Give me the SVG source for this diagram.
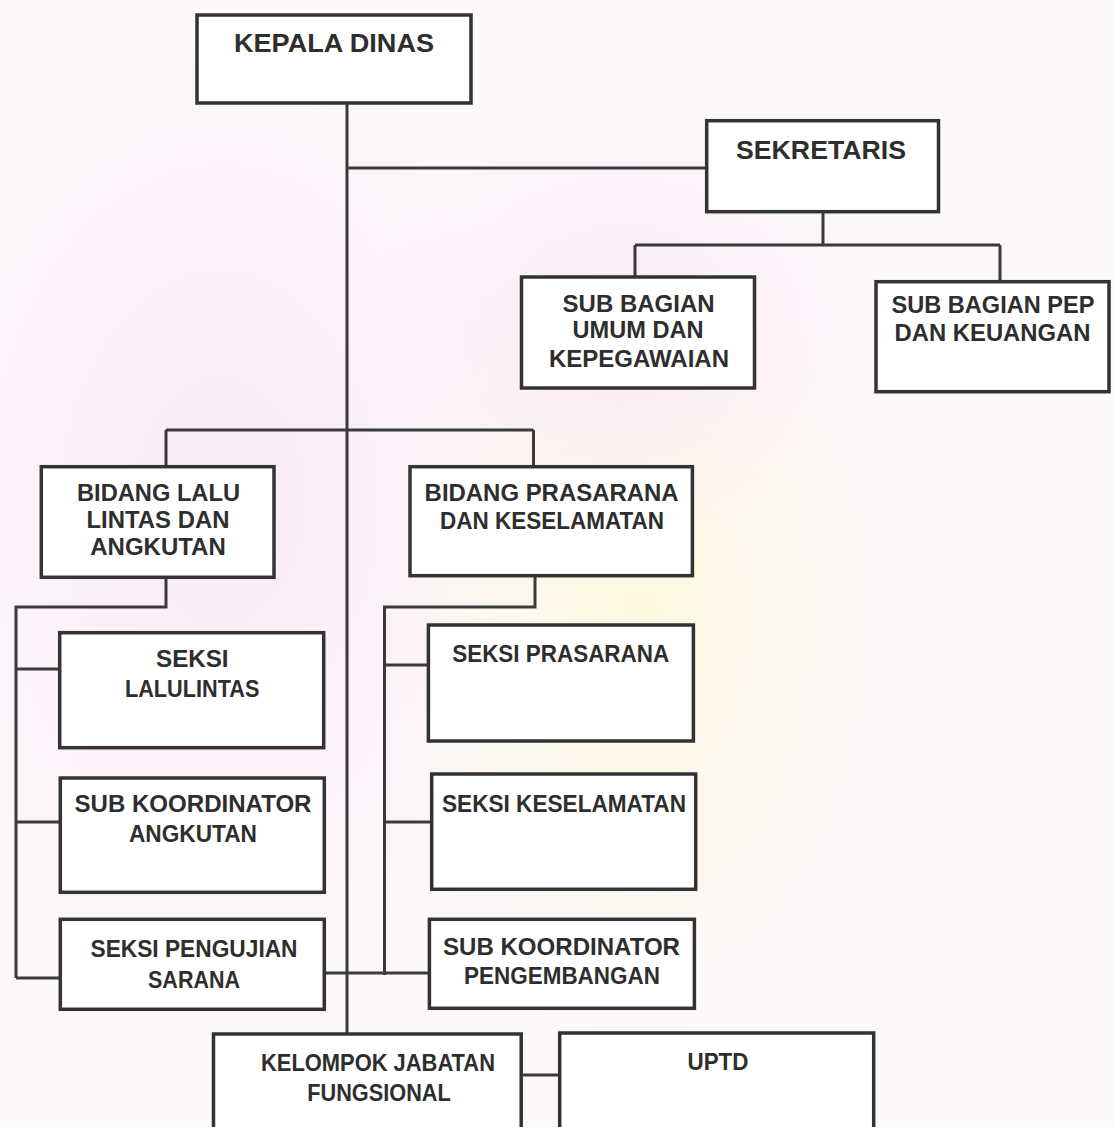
<svg xmlns="http://www.w3.org/2000/svg" width="1114" height="1127" viewBox="0 0 1114 1127">
<defs>
<style>
.box{fill:#ffffff;stroke:#333333;stroke-width:3.5}
.conn{fill:none;stroke:#3a3a3a;stroke-width:3}
.t{font-family:"Liberation Sans",Arial,sans-serif;font-weight:bold;fill:#2e2e2e;text-anchor:middle}
.big{font-size:25px}
.mid{font-size:23px}
</style>
<radialGradient id="pink" cx="0.5" cy="0.5" r="0.5">
<stop offset="0" stop-color="#fbe9f7" stop-opacity="0.9"/>
<stop offset="1" stop-color="#fbe9f7" stop-opacity="0"/>
</radialGradient>
<radialGradient id="yel" cx="0.5" cy="0.5" r="0.5">
<stop offset="0" stop-color="#fdf8dc" stop-opacity="0.9"/>
<stop offset="1" stop-color="#fdf8dc" stop-opacity="0"/>
</radialGradient>
</defs>
<rect x="0" y="0" width="1114" height="1127" fill="#fcf8fb"/>
<ellipse cx="220" cy="500" rx="330" ry="480" fill="url(#pink)"/>
<ellipse cx="640" cy="620" rx="260" ry="420" fill="url(#yel)"/>
<ellipse cx="620" cy="330" rx="260" ry="220" fill="url(#pink)"/>

<g id="connectors">
<path class="conn" d="M347,103 V1034"/>
<path class="conn" d="M347,168 H706.7"/>
<path class="conn" d="M823,212 V245 M635,245 H1000 M635,245 V277 M1000,245 V281.7"/>
<path class="conn" d="M166,430 H533.5 M166,430 V466.7 M533.5,430 V466.7"/>
<path class="conn" d="M166,577.3 V607 H16 V978 M16,669 H59.7 M16,822 H60.3 M16,978 H60.3"/>
<path class="conn" d="M535,575.7 V607 H384.5 V975 M384.5,665 H428.4 M384.5,822 H431.7 M324.3,973 H429.4"/>
<path class="conn" d="M521.2,1075 H559.7"/>
</g>

<g id="kepala-dinas">
<rect class="box" x="197" y="15" width="274" height="88"/>
<text class="t big" x="334" y="51.7" textLength="200" lengthAdjust="spacingAndGlyphs">KEPALA DINAS</text>
</g>
<g id="sekretaris">
<rect class="box" x="706.7" y="120.7" width="231.8" height="91"/>
<text class="t big" x="821" y="159" textLength="170" lengthAdjust="spacingAndGlyphs">SEKRETARIS</text>
</g>
<g id="sub-bagian-umum">
<rect class="box" x="521.5" y="277" width="233" height="111"/>
<text class="t mid" x="638.6" y="311.7" textLength="152" lengthAdjust="spacingAndGlyphs">SUB BAGIAN</text>
<text class="t mid" x="638" y="338" textLength="131" lengthAdjust="spacingAndGlyphs">UMUM DAN</text>
<text class="t mid" x="639" y="366.7" textLength="180" lengthAdjust="spacingAndGlyphs">KEPEGAWAIAN</text>
</g>
<g id="sub-bagian-pep">
<rect class="box" x="876" y="281.7" width="233" height="110"/>
<text class="t mid" x="993" y="313" textLength="203" lengthAdjust="spacingAndGlyphs">SUB BAGIAN PEP</text>
<text class="t mid" x="992.5" y="341" textLength="196" lengthAdjust="spacingAndGlyphs">DAN KEUANGAN</text>
</g>
<g id="bidang-lalu-lintas">
<rect class="box" x="41.3" y="466.7" width="232.7" height="110.6"/>
<text class="t mid" x="158.5" y="500.7" textLength="163" lengthAdjust="spacingAndGlyphs">BIDANG LALU</text>
<text class="t mid" x="158" y="528" textLength="143" lengthAdjust="spacingAndGlyphs">LINTAS DAN</text>
<text class="t mid" x="158" y="555" textLength="135.5" lengthAdjust="spacingAndGlyphs">ANGKUTAN</text>
</g>
<g id="bidang-prasarana">
<rect class="box" x="410" y="466.7" width="282.4" height="109"/>
<text class="t mid" x="551.6" y="500.7" textLength="254" lengthAdjust="spacingAndGlyphs">BIDANG PRASARANA</text>
<text class="t mid" x="552" y="529" textLength="224" lengthAdjust="spacingAndGlyphs">DAN KESELAMATAN</text>
</g>
<g id="seksi-lalulintas">
<rect class="box" x="59.7" y="632.7" width="264" height="115"/>
<text class="t mid" x="192.3" y="666.7" textLength="72.6" lengthAdjust="spacingAndGlyphs">SEKSI</text>
<text class="t mid" x="192.2" y="697" textLength="134.5" lengthAdjust="spacingAndGlyphs">LALULINTAS</text>
</g>
<g id="sub-koordinator-angkutan">
<rect class="box" x="60.3" y="778" width="264" height="114.3"/>
<text class="t mid" x="193" y="811.7" textLength="237" lengthAdjust="spacingAndGlyphs">SUB KOORDINATOR</text>
<text class="t mid" x="193" y="841.7" textLength="128" lengthAdjust="spacingAndGlyphs">ANGKUTAN</text>
</g>
<g id="seksi-pengujian-sarana">
<rect class="box" x="60.3" y="919.3" width="264" height="90"/>
<text class="t mid" x="194" y="956.7" textLength="207" lengthAdjust="spacingAndGlyphs">SEKSI PENGUJIAN</text>
<text class="t mid" x="194" y="988" textLength="92" lengthAdjust="spacingAndGlyphs">SARANA</text>
</g>
<g id="seksi-prasarana">
<rect class="box" x="428.4" y="625" width="265" height="116"/>
<text class="t mid" x="560.7" y="661.7" textLength="217" lengthAdjust="spacingAndGlyphs">SEKSI PRASARANA</text>
</g>
<g id="seksi-keselamatan">
<rect class="box" x="431.7" y="774" width="264" height="115.3"/>
<text class="t mid" x="564" y="811.7" textLength="244" lengthAdjust="spacingAndGlyphs">SEKSI KESELAMATAN</text>
</g>
<g id="sub-koordinator-pengembangan">
<rect class="box" x="429.4" y="919.3" width="265" height="89"/>
<text class="t mid" x="561.5" y="955" textLength="237" lengthAdjust="spacingAndGlyphs">SUB KOORDINATOR</text>
<text class="t mid" x="562" y="984" textLength="196" lengthAdjust="spacingAndGlyphs">PENGEMBANGAN</text>
</g>
<g id="kelompok-jabatan-fungsional">
<rect class="box" x="213.5" y="1034" width="307.7" height="110"/>
<text class="t mid" x="378" y="1071" textLength="234" lengthAdjust="spacingAndGlyphs">KELOMPOK JABATAN</text>
<text class="t mid" x="379" y="1101" textLength="143.5" lengthAdjust="spacingAndGlyphs">FUNGSIONAL</text>
</g>
<g id="uptd">
<rect class="box" x="559.7" y="1033" width="314" height="110"/>
<text class="t mid" x="718" y="1070" textLength="61" lengthAdjust="spacingAndGlyphs">UPTD</text>
</g>
</svg>
